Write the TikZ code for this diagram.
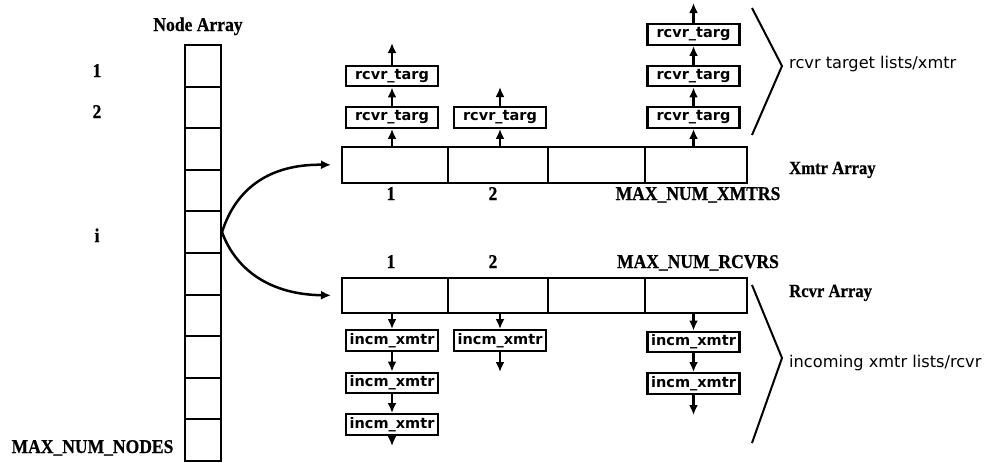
\documentclass[tikz,border=0pt]{standalone}
\usepackage{fontspec}
\setmainfont{Liberation Serif}[FakeStretch=0.9, BoldFeatures={FakeBold=0.6}]
\newfontfamily\boxfont{DejaVu Sans}
\usetikzlibrary{arrows.meta}
\begin{document}
\begin{tikzpicture}[x=1pt,y=-1pt,
  lbl/.style={font=\bfseries\fontsize{19.5}{20}\selectfont, inner sep=0pt, anchor=base},
  sidelbl/.style={font=\boxfont\fontsize{16.2}{20}\selectfont, inner sep=0pt, anchor=base west},
  arrlbl/.style={font=\bfseries\fontsize{18.5}{20}\selectfont, inner sep=0pt, anchor=base west},
  cell/.style={draw, line width=2pt, inner sep=0pt, anchor=north west},
  lbox/.style={draw, line width=2.4pt, inner sep=0pt, minimum width=92pt, minimum height=20.5pt,
    font=\boxfont\bfseries\fontsize{14.5}{15}\selectfont},
  arr/.style={-{Latex[length=10pt,width=9pt]}, line width=2.5pt},
  brace/.style={line width=2pt}]
\useasboundingbox (0,0) rectangle (986,463);

% Node array
\foreach \k in {1,...,10}{
  \node[cell, minimum width=36pt, minimum height=41.6pt] (n\k) at (184,{44+41.6*(\k-1)}) {};
}
\node[lbl] (tna) at (198,31) {Node Array};
\node[lbl] (ln1) at (97,77) {1};
\node[lbl] (ln2) at (97,118) {2};
\node[lbl] (lni) at (97,242) {i};
\node[lbl] (lnm) at (92.5,453) {MAX\_NUM\_NODES};

% Xmtr array
\node[cell, minimum width=106pt, minimum height=36pt] (x1) at (341,146) {};
\node[cell, minimum width=100pt, minimum height=36pt] (x2) at (447,146) {};
\node[cell, minimum width=97pt, minimum height=36pt] (x3) at (547,146) {};
\node[cell, minimum width=102pt, minimum height=36pt] (x4) at (644,146) {};
\node[lbl] (lx1) at (391,200) {1};
\node[lbl] (lx2) at (493,200) {2};
\node[lbl] (lxm) at (698,200) {MAX\_NUM\_XMTRS};
\node[arrlbl] (txa) at (789,174) {Xmtr Array};

% Rcvr array
\node[cell, minimum width=106pt, minimum height=35pt] (r1) at (341,277) {};
\node[cell, minimum width=100pt, minimum height=35pt] (r2) at (447,277) {};
\node[cell, minimum width=97pt, minimum height=35pt] (r3) at (547,277) {};
\node[cell, minimum width=102pt, minimum height=35pt] (r4) at (644,277) {};
\node[lbl] (lr1) at (391,268) {1};
\node[lbl] (lr2) at (493,268) {2};
\node[lbl] (lrm) at (698,268) {MAX\_NUM\_RCVRS};
\node[arrlbl] (tra) at (789,297) {Rcvr Array};

% curved pointers
\draw[arr, shorten >=10pt] (n5.east) .. controls (236,188) and (270,164) .. (x1.west);
\draw[arr, shorten >=10pt] (n5.east) .. controls (236,270) and (270,294.5) .. (r1.west);

% rcvr target lists
\node[lbox] (t11) at (392,117.5) {rcvr\_targ};
\node[lbox] (t12) at (392,76) {rcvr\_targ};
\node[lbox] (t21) at (500,117.5) {rcvr\_targ};
\node[lbox] (t41) at (693.5,117.5) {rcvr\_targ};
\node[lbox] (t42) at (693.5,76) {rcvr\_targ};
\node[lbox] (t43) at (693.5,34.5) {rcvr\_targ};
\coordinate (e12) at (392,43);
\coordinate (e21) at (500,87);
\coordinate (e43) at (693.5,3);
\draw[arr] (t11.south |- x1.north) -- (t11.south);
\draw[arr] (t11.north) -- (t12.south);
\draw[arr] (t12.north) -- (e12);
\draw[arr] (t21.south |- x2.north) -- (t21.south);
\draw[arr] (t21.north) -- (e21);
\draw[arr] (t41.south |- x4.north) -- (t41.south);
\draw[arr] (t41.north) -- (t42.south);
\draw[arr] (t42.north) -- (t43.south);
\draw[arr] (t43.north) -- (e43);

% incoming xmtr lists
\node[lbox] (b11) at (392,340.5) {incm\_xmtr};
\node[lbox] (b12) at (392,383) {incm\_xmtr};
\node[lbox] (b13) at (392,424.5) {incm\_xmtr};
\node[lbox] (b21) at (500,340.5) {incm\_xmtr};
\node[lbox] (b41) at (693.5,342) {incm\_xmtr};
\node[lbox] (b42) at (693.5,383.5) {incm\_xmtr};
\coordinate (f13) at (392,446);
\coordinate (f21) at (500,372);
\coordinate (f42) at (693.5,415);
\draw[arr] (b11.north |- r1.south) -- (b11.north);
\draw[arr] (b11.south) -- (b12.north);
\draw[arr] (b12.south) -- (b13.north);
\draw[arr] (b13.south) -- (f13);
\draw[arr] (b21.north |- r2.south) -- (b21.north);
\draw[arr] (b21.south) -- (f21);
\draw[arr] (b41.north |- r4.south) -- (b41.north);
\draw[arr] (b41.south) -- (b42.north);
\draw[arr] (b42.south) -- (f42);

% brackets and side labels
\coordinate (ba1) at (752,8);
\coordinate (bv1) at (782,66);
\coordinate (bb1) at (752,135);
\coordinate (ba2) at (752,285);
\coordinate (bv2) at (782,358);
\coordinate (bb2) at (752,443);
\draw[brace] (ba1) -- (bv1) -- (bb1);
\draw[brace] (ba2) -- (bv2) -- (bb2);
\node[sidelbl] (s1) at (789,68) {rcvr target lists/xmtr};
\node[sidelbl] (s2) at (789,367) {incoming xmtr lists/rcvr};
\end{tikzpicture}
\end{document}
